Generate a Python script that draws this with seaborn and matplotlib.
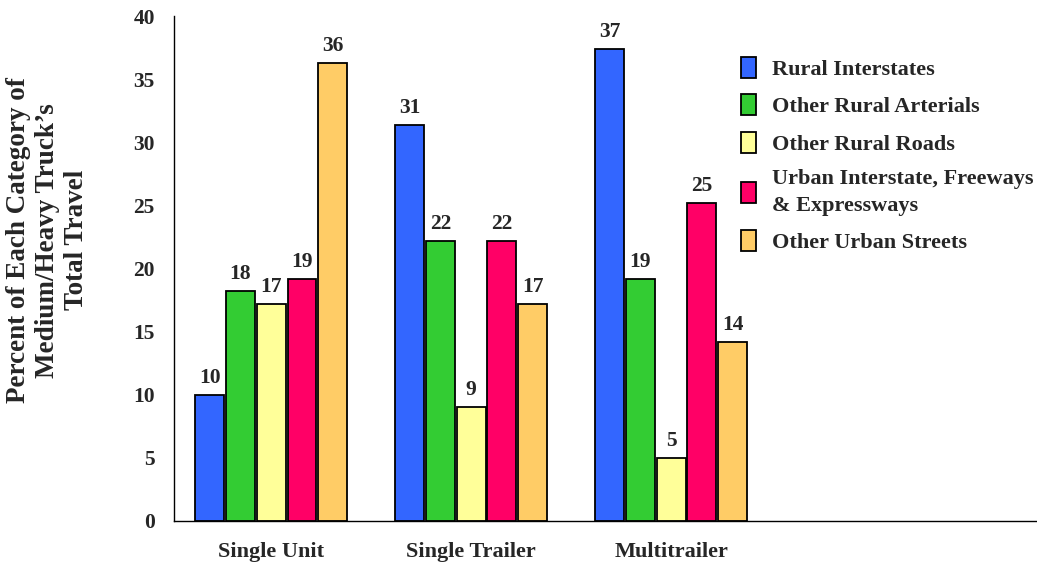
import pandas as pd
import seaborn as sns
import matplotlib.pyplot as plt

# Data
truck_types = ['Single Unit', 'Single Trailer', 'Multitrailer']
road_classes = ['Rural Interstates', 'Other Rural Arterials', 'Other Rural Roads',
                'Urban Interstate, Freeways\n& Expressways', 'Other Urban Streets']
rural_interstates = [10.0, 31.4, 37.4]
other_rural_arterials = [18.2, 22.2, 19.2]
other_rural_roads = [17.2, 9.0, 5.0]
urban_interstates = [19.2, 22.2, 25.2]
other_urban_streets = [36.3, 17.2, 14.2]
colors = ['#3366FF', '#33CC33', '#FFFF99', '#FF0066', '#FFCC66']

series = [rural_interstates, other_rural_arterials, other_rural_roads,
          urban_interstates, other_urban_streets]
rows = []
for road, vals in zip(road_classes, series):
    for truck, v in zip(truck_types, vals):
        rows.append({'truck': truck, 'road': road, 'pct': v})
df = pd.DataFrame(rows)

sns.set_style('white')
plt.rcParams['font.family'] = ['Liberation Serif', 'DejaVu Serif']
plt.rcParams['font.weight'] = 'bold'

fig = plt.figure(figsize=(10.37, 5.62), dpi=100)
ax = fig.add_axes([0.168, 0.073, 0.832, 0.8985])

sns.barplot(data=df, x='truck', y='pct', hue='road', order=truck_types,
            hue_order=road_classes, palette=colors, width=0.77, gap=0.06,
            edgecolor='black', linewidth=1.3, saturation=1, ax=ax)

for cont in ax.containers:
    ax.bar_label(cont, fmt='%.0f', padding=5, fontsize=15.5, fontweight='bold')

ax.set_xlim(-0.485, 3.83)
ax.set_ylim(0, 40)
ax.set_yticks(range(0, 41, 5))
ax.tick_params(axis='y', length=0, pad=14, labelsize=15.5)
ax.tick_params(axis='x', length=0, pad=15, labelsize=16)
for lab in ax.get_xticklabels() + ax.get_yticklabels():
    lab.set_fontweight('bold')

for s in ['top', 'right']:
    ax.spines[s].set_visible(False)
ax.spines['left'].set_color('black')
ax.spines['bottom'].set_color('black')
ax.spines['left'].set_linewidth(1.0)
ax.spines['bottom'].set_linewidth(1.0)

ax.set_xlabel('')
ax.set_ylabel("Percent of Each Category of\nMedium/Heavy Truck\u2019s\nTotal Travel",
              fontsize=19.5, fontweight='bold', linespacing=1.2)
ax.yaxis.set_label_coords(-0.099, 0.556)

leg = ax.legend(loc='upper left', bbox_to_anchor=(0.6466, 0.937), frameon=False,
                fontsize=16, handlelength=0.68, handleheight=1.1,
                handletextpad=0.72, labelspacing=0.64, borderaxespad=0)
for t in leg.get_texts():
    t.set_fontweight('bold')
    t.set_linespacing(1.45)

fig.savefig('out.png', dpi=100)
